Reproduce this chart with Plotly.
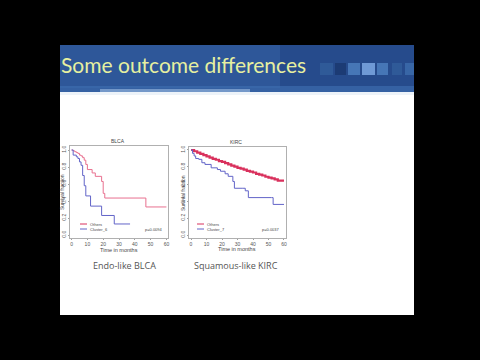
import plotly.graph_objects as go

# ---------------- data ----------------
blca_others_t = [0, 1, 2, 3, 4, 5, 6, 7, 8, 9, 10, 13, 15, 19, 20, 21, 47, 60]
blca_others_s = [1.0, 0.99, 0.98, 0.97, 0.96, 0.94, 0.93, 0.91, 0.88, 0.83, 0.77, 0.73, 0.69, 0.63, 0.49, 0.435, 0.33, 0.33]
blca_clust_t = [0, 1, 3, 4, 5, 6, 7, 8, 9, 12, 19, 27, 37]
blca_clust_s = [1.0, 0.94, 0.92, 0.90, 0.86, 0.82, 0.70, 0.58, 0.46, 0.34, 0.23, 0.13, 0.13]

kirc_others_t = [0, 2, 4, 6, 8, 10, 12, 14, 16, 18, 20, 22, 24, 26, 28, 30, 32, 34, 36, 38, 40, 42, 44, 46, 48, 50, 52, 54, 56, 58, 60]
kirc_others_s = [1.0, 0.985, 0.97, 0.955, 0.94, 0.925, 0.91, 0.895, 0.885, 0.87, 0.86, 0.845, 0.83, 0.815, 0.805, 0.79, 0.78, 0.77, 0.755, 0.745, 0.735, 0.72, 0.71, 0.70, 0.685, 0.675, 0.665, 0.655, 0.64, 0.64, 0.64]
kirc_clust_t = [0, 1, 2, 3, 5, 7, 9, 13, 17, 19, 22, 24, 27, 28, 33, 35, 37, 52, 53, 60]
kirc_clust_s = [1.0, 0.96, 0.93, 0.90, 0.89, 0.85, 0.83, 0.79, 0.77, 0.75, 0.72, 0.69, 0.63, 0.55, 0.55, 0.52, 0.44, 0.44, 0.36, 0.36]

x_ticks = [0, 10, 20, 30, 40, 50, 60]
y_ticks = [0.0, 0.2, 0.4, 0.6, 0.8, 1.0]
y_tick_text = ["0.0", "0.2", "0.4", "0.6", "0.8", "1.0"]

slide_title = "Some outcome differences"
plot_titles = ["BLCA", "KIRC"]
captions = ["Endo-like BLCA", "Squamous-like KIRC"]
legend_labels = [["Others", "Cluster_6"], ["Others", "Cluster_7"]]
pvals = ["p=0.0094", "p=0.0037"]

RED = "#d9305c"
RED_L = "#e8708f"
BLUE = "#6264c8"

W, H = 480, 360
def px(x):
    return x / W
def py(y):
    return (H - y) / H

fig = go.Figure()

fig.add_trace(go.Scatter(x=blca_others_t, y=blca_others_s, mode="lines", line=dict(color=RED_L, width=1, shape="hv"), xaxis="x", yaxis="y", showlegend=False))
fig.add_trace(go.Scatter(x=blca_clust_t, y=blca_clust_s, mode="lines", line=dict(color=BLUE, width=1, shape="hv"), xaxis="x", yaxis="y", showlegend=False))
fig.add_trace(go.Scatter(x=kirc_others_t, y=kirc_others_s, mode="lines", line=dict(color=RED, width=2.2, shape="hv"), xaxis="x2", yaxis="y2", showlegend=False))
fig.add_trace(go.Scatter(x=kirc_clust_t, y=kirc_clust_s, mode="lines", line=dict(color=BLUE, width=1, shape="hv"), xaxis="x2", yaxis="y2", showlegend=False))

axis_common = dict(showgrid=False, zeroline=False, showline=True, mirror=True, linecolor="#b0b0b0", linewidth=1,
                   ticks="outside", ticklen=1, tickcolor="#a0a0a0", tickfont=dict(size=5, color="#555", family="Liberation Sans"))

fig.update_layout(
    width=W, height=H, autosize=False,
    margin=dict(l=0, r=0, t=0, b=0),
    paper_bgcolor="black", plot_bgcolor="white",
    xaxis=dict(domain=[px(70), px(168)], range=[-1.0, 61.0], tickvals=x_ticks, anchor="y", **axis_common),
    yaxis=dict(domain=[py(238), py(146)], range=[-0.035, 1.047], tickvals=y_ticks, ticktext=y_tick_text, tickangle=-90, anchor="x", **axis_common),
    xaxis2=dict(domain=[px(189), px(286)], range=[-1.3, 61.3], tickvals=x_ticks, anchor="y2", **axis_common),
    yaxis2=dict(domain=[py(238), py(147)], range=[-0.035, 1.035], tickvals=y_ticks, ticktext=y_tick_text, tickangle=-90, anchor="x2", **axis_common),
)

shapes = []
# slide background
shapes.append(dict(type="rect", xref="paper", yref="paper", x0=px(60), x1=px(414), y0=py(315), y1=py(45), fillcolor="white", line=dict(width=0), layer="below"))
# header band
shapes.append(dict(type="rect", xref="paper", yref="paper", x0=px(60), x1=px(414), y0=py(92), y1=py(45), fillcolor="#264b8c", line=dict(width=0), layer="below"))
shapes.append(dict(type="rect", xref="paper", yref="paper", x0=px(60), x1=px(280), y0=py(88), y1=py(45), fillcolor="#3663a6", opacity=0.5, line=dict(width=0), layer="below"))
shapes.append(dict(type="rect", xref="paper", yref="paper", x0=px(60), x1=px(414), y0=py(92), y1=py(86), fillcolor="#3f6fb2", opacity=0.6, line=dict(width=0), layer="below"))
shapes.append(dict(type="rect", xref="paper", yref="paper", x0=px(100), x1=px(250), y0=py(92), y1=py(89), fillcolor="#9fbde2", opacity=0.6, line=dict(width=0), layer="below"))
shapes.append(dict(type="rect", xref="paper", yref="paper", x0=px(60), x1=px(414), y0=py(95), y1=py(92), fillcolor="#e8f0f8", opacity=0.8, line=dict(width=0), layer="below"))
# decorative squares
squares = [(320, 333, "#2f5a98"), (335, 346, "#1c3b74"), (348, 360, "#4676b6"), (362, 375, "#6f9ad6"), (377, 388, "#4676b6"), (392, 402, "#2f5a98"), (405, 414, "#3866a6")]
for x0, x1, c in squares:
    shapes.append(dict(type="rect", xref="paper", yref="paper", x0=px(x0), x1=px(x1), y0=py(75), y1=py(63), fillcolor=c, line=dict(width=0), layer="below"))

# legend keys
for (lx, ly, col) in [(80, 224, RED), (80, 229, BLUE), (197, 224, RED), (197, 229, BLUE)]:
    shapes.append(dict(type="line", xref="paper", yref="paper", x0=px(lx), x1=px(lx + 7), y0=py(ly), y1=py(ly), line=dict(color=col, width=1)))
fig.update_layout(shapes=shapes)

ann = []
ann.append(dict(text=slide_title, x=px(59), y=py(64), xref="paper", yref="paper", xanchor="left", yanchor="middle", showarrow=False,
                font=dict(family="Lato", size=21, color="#e6f0a0")))
for t, x, y in [(plot_titles[0], 118, 141), (plot_titles[1], 236, 142)]:
    ann.append(dict(text=t, x=px(x), y=py(y), xref="paper", yref="paper", xanchor="center", yanchor="middle", showarrow=False,
                    font=dict(family="Liberation Sans", size=5, color="#444")))
for x, y in [(119, 250), (237, 249)]:
    ann.append(dict(text="Time in months", x=px(x), y=py(y), xref="paper", yref="paper", xanchor="center", yanchor="middle", showarrow=False,
                    font=dict(family="Liberation Sans", size=5.5, color="#444")))
for x, y in [(62, 192), (183, 193)]:
    ann.append(dict(text="Survival fraction", x=px(x), y=py(y), xref="paper", yref="paper", xanchor="center", yanchor="middle", showarrow=False,
                    textangle=-90, font=dict(family="Liberation Sans", size=5, color="#444")))
for i, (x0, yy) in enumerate([(88, 224), (205, 224)]):
    ann.append(dict(text=legend_labels[i][0], x=px(x0), y=py(yy), xref="paper", yref="paper", xanchor="left", yanchor="middle", showarrow=False,
                    font=dict(family="Liberation Sans", size=4, color="#444")))
    ann.append(dict(text=legend_labels[i][1], x=px(x0), y=py(yy + 5), xref="paper", yref="paper", xanchor="left", yanchor="middle", showarrow=False,
                    font=dict(family="Liberation Sans", size=4, color="#444")))
for t, x in [(pvals[0], 165), (pvals[1], 282)]:
    ann.append(dict(text=t, x=px(x), y=py(229), xref="paper", yref="paper", xanchor="right", yanchor="middle", showarrow=False,
                    font=dict(family="Liberation Sans", size=4, color="#444")))
for t, x in [(captions[0], 124), (captions[1], 236)]:
    ann.append(dict(text=t, x=px(x), y=py(265), xref="paper", yref="paper", xanchor="center", yanchor="middle", showarrow=False,
                    font=dict(family="Open Sans", size=9, color="#555")))
fig.update_layout(annotations=ann)

fig.write_html("out.html", config={"displayModeBar": False},
               post_script="document.body.style.margin='0';document.body.style.background='black';document.body.style.overflow='hidden';")
